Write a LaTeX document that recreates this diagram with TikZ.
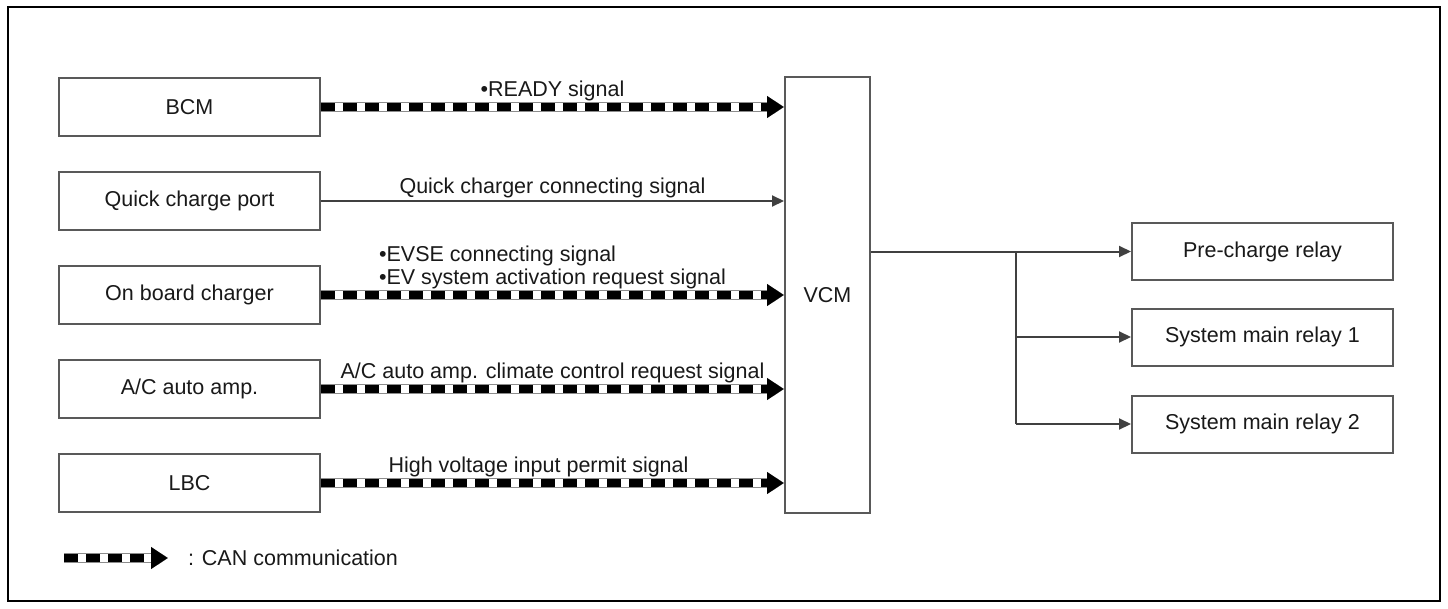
\documentclass[tikz,border=0pt]{standalone}
\usepackage{fontspec}
\setmainfont{Liberation Sans}
\usetikzlibrary{arrows.meta, positioning}

\begin{document}
\begin{tikzpicture}[
    x=1pt, y=-1pt,
    unit/.style={rectangle, draw=black!65, line width=2pt, fill=white, minimum width=261pt, minimum height=58pt, inner sep=2pt, font=\fontsize{21.5}{23}\selectfont, text=black!90},
    ctrl/.style={unit, minimum width=85pt, minimum height=436pt},
    wire/.style={draw=black!75, line width=2pt},
    feed/.style={wire, -{Triangle[length=12pt, width=11pt]}},
    canbus/.style={line width=8pt, dash pattern=on 14pt off 8pt, -{Triangle[length=17pt, width=21pt]}, preaction={draw=black!45, line width=10pt, solid}, preaction={draw=white, line width=8pt, solid}},
    siglabel/.style={above=0pt, inner sep=2pt, font=\fontsize{21.5}{23}\selectfont, text=black!90, align=left}
]
    \useasboundingbox (0,0) rectangle (1448,608);
    \draw[line width=2pt] (8,7) rectangle (1440,601);

    \node[unit] at (189.5,107) (bcm) {BCM};
    \node[unit] at (189.5,201) (qcp) {Quick charge port};
    \node[unit] at (189.5,295) (obc) {On board charger};
    \node[unit] at (189.5,389) (acamp) {A/C auto amp.};
    \node[unit] at (189.5,483) (lbc) {LBC};

    \node[ctrl] at (827.5,295) (vcm) {VCM};

    \node[unit, minimum height=57pt] at (1262.5,251.5) (precharge) {Pre-charge relay};
    \node[unit, minimum height=57pt] at (1262.5,337) (smrone) {System main relay 1};
    \node[unit, minimum height=57pt] at (1262.5,424) (smrtwo) {System main relay 2};

    \draw[canbus] (bcm.east) -- (bcm.east -| vcm.west) node[siglabel, midway] (readylbl) {•READY signal};
    \draw[feed] (qcp.east) -- (qcp.east -| vcm.west) node[siglabel, midway] (qcplbl) {Quick charger connecting signal};
    \draw[canbus] (obc.east) -- (obc.east -| vcm.west) node[siglabel, midway] (obclbl) {•EVSE connecting signal\\•EV system activation request signal};
    \draw[canbus] (acamp.east) -- (acamp.east -| vcm.west) node[siglabel, midway] (acamplbl) {A/C auto amp. climate control request signal};
    \draw[canbus] (lbc.east) -- (lbc.east -| vcm.west) node[siglabel, midway, xshift=-14pt] (lbclbl) {High voltage input permit signal};

    \coordinate (split) at (1016,251.5);
    \draw[feed] (vcm.east |- precharge.west) -- (precharge.west);
    \draw[wire] (split) -- (split |- smrtwo.west);
    \draw[feed] (split |- smrone.west) -- (smrone.west);
    \draw[feed] (split |- smrtwo.west) -- (smrtwo.west);

    % legend
    \coordinate (canleg) at (64,558);
    \draw[canbus] (canleg) -- ++(104,0) node[right=14pt, inner sep=2pt, font=\fontsize{21.5}{23}\selectfont, text=black!90] (canlegtext) {: CAN communication};
\end{tikzpicture}
\end{document}
